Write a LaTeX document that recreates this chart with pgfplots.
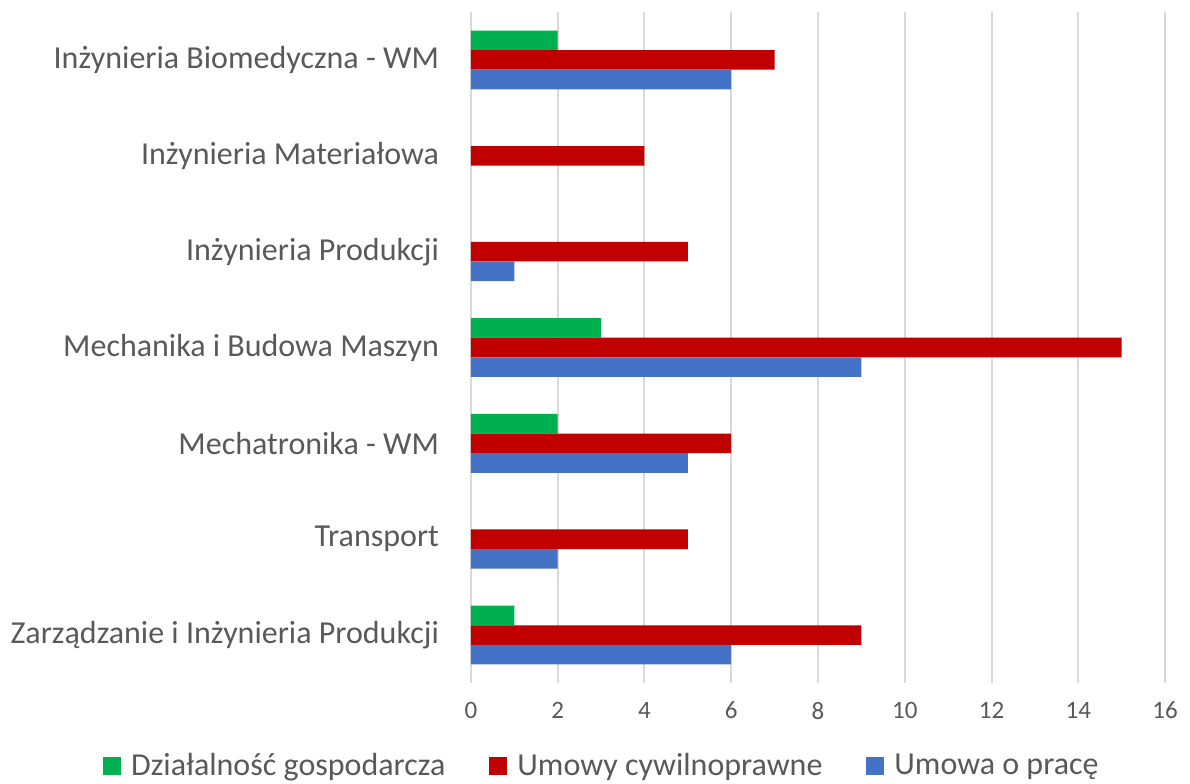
\documentclass[border=0pt]{standalone}
\usepackage{pgfplots}
\pgfplotsset{compat=1.18}
\usepackage{fontspec}
\setmainfont{Carlito}
\definecolor{cgreen}{HTML}{00B050}
\definecolor{cred}{HTML}{C00000}
\definecolor{cblue}{HTML}{4472C4}
\definecolor{ctext}{HTML}{595959}
\definecolor{cgrid}{HTML}{D9D9D9}
\begin{document}
\begin{tikzpicture}
\useasboundingbox (0,0) rectangle (595pt,391.5pt);
\begin{axis}[
  at={(235.5pt,50pt)}, anchor=south west,
  scale only axis, width=347pt, height=335.5pt,
  xbar=0pt, bar width=9.8pt,
  y dir=reverse,
  xmin=0, xmax=16, xtick={0,2,...,16},
  ymin=-0.5, ymax=6.5, ytick={0,...,6},
  yticklabels={Inżynieria Biomedyczna - WM, Inżynieria Materiałowa, Inżynieria Produkcji, Mechanika i Budowa Maszyn, Mechatronika - WM, Transport, Zarządzanie i Inżynieria Produkcji},
  axis line style={draw=none},
  major tick length=0pt,
  xmajorgrids, grid style={cgrid, line width=1pt},
  tick label style={text=ctext},
  yticklabel style={font=\fontsize{16}{19}\selectfont, xshift=-12.5pt},
  xticklabel style={font=\fontsize{12.5}{15}\selectfont, yshift=-6pt},
  /pgf/number format/assume math mode=true,
  legend style={at={(0.19,-0.124)}, anchor=center, draw=none, legend columns=3,
     font=\fontsize{16}{19}\selectfont, text=ctext,
     /tikz/every odd column/.append style={column sep=3pt},
     /tikz/every even column/.append style={column sep=20pt}},
  legend image code/.code={\fill[#1] (0pt,-4.5pt) rectangle (9pt,4.5pt);},
]
\addplot[fill=cgreen, draw=none, bar shift=9.8pt] coordinates {(2,0) (3,3) (2,4) (1,6)};
\addplot[fill=cred, draw=none, bar shift=0pt] coordinates {(7,0) (4,1) (5,2) (15,3) (6,4) (5,5) (9,6)};
\addplot[fill=cblue, draw=none, bar shift=-9.8pt] coordinates {(6,0) (1,2) (9,3) (5,4) (2,5) (6,6)};
\legend{Działalność gospodarcza, Umowy cywilnoprawne, Umowa o pracę}
\end{axis}
\end{tikzpicture}
\end{document}
